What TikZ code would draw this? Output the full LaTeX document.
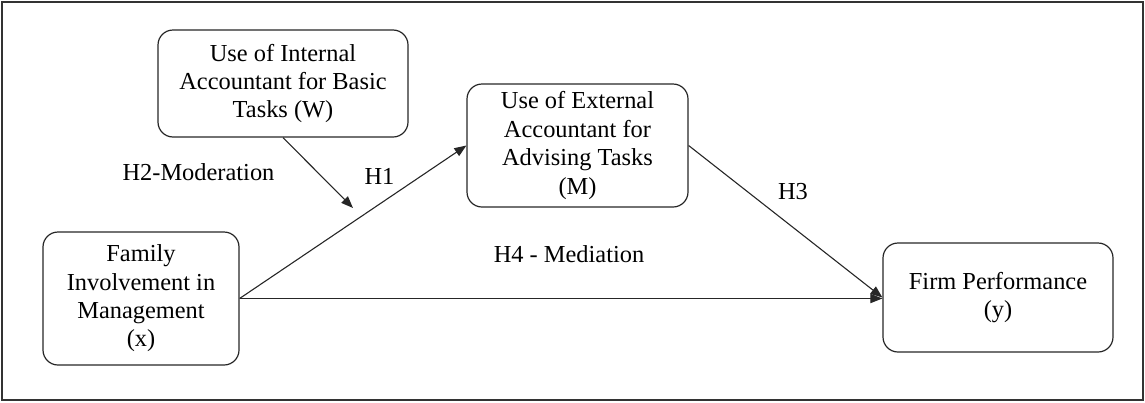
\documentclass[tikz,border=0pt]{standalone}
\usepackage{fontspec}
\newfontfamily\timesf{LiberationSerif}[Extension=.ttf, UprightFont=*-Regular]
\usetikzlibrary{arrows.meta}
\begin{document}
\begin{tikzpicture}[x=0.5pt,y=-0.5pt,
  font=\timesf\fontsize{12.2}{14.2}\selectfont,
  box/.style={draw=black!85, line width=0.6pt, rounded corners=7.5pt, align=center, inner sep=0pt},
  conn/.style={draw=black!85, line width=0.55pt, -{Triangle[length=6pt,width=4.6pt]}},
  lbl/.style={anchor=base, inner sep=0pt}]
\useasboundingbox (0,0) rectangle (1145,402);
\draw[line width=1pt, black!80] (2,2) rectangle (1143,400);
\node[box, minimum width=125pt, minimum height=53.5pt] (W) at (283,83.5) {Use of Internal\\Accountant for Basic\\Tasks (W)};
\node[box, minimum width=110.5pt, minimum height=61.5pt] (M) at (577.5,145.5) {Use of External\\Accountant for\\Advising Tasks\\(M)};
\node[box, minimum width=98pt, minimum height=66.5pt] (X) at (141,298.5) {Family\\Involvement in\\Management\\(x)};
\node[box, minimum width=115pt, minimum height=54.5pt] (Y) at (998,297.5) {Firm Performance\\(y)};
\coordinate (modend) at (353,208);
\draw[conn] (X.east) -- (M.west);
\draw[conn] (X.east) -- (X.east -| Y.west);
\draw[conn] (M.east) -- (Y.west);
\draw[conn] (W.south) -- (modend);
\node[lbl] (h2) at (198.5,180) {H2-Moderation};
\node[lbl] (h1) at (379.5,184) {H1};
\node[lbl] (h3) at (793,199) {H3};
\node[lbl] (h4) at (569,262) {H4 - Mediation};
\end{tikzpicture}
\end{document}
